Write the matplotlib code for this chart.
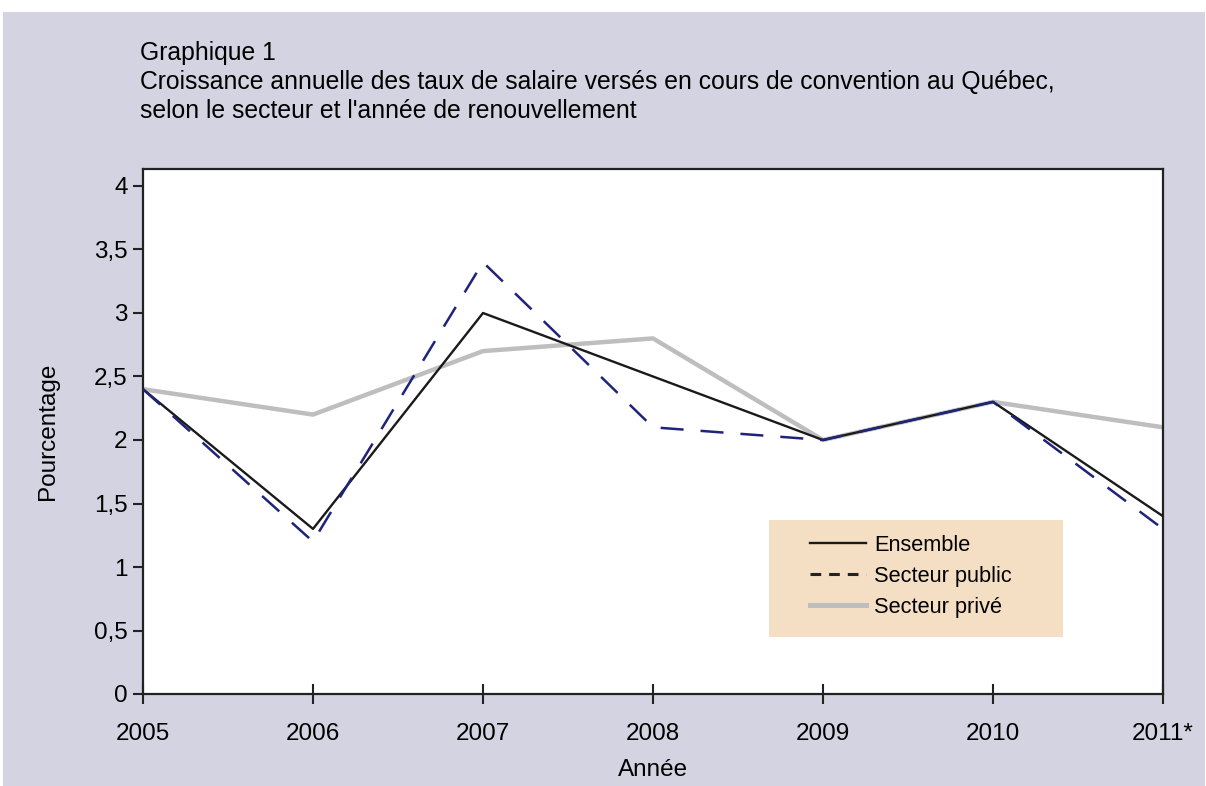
import matplotlib
matplotlib.use('Agg')
import matplotlib.pyplot as plt
from matplotlib.patches import Rectangle
from matplotlib.lines import Line2D

years = [2005, 2006, 2007, 2008, 2009, 2010, 2011]
year_labels = ['2005', '2006', '2007', '2008', '2009', '2010', '2011*']
ensemble = [2.4, 1.3, 3.0, 2.5, 2.0, 2.3, 1.4]
public = [2.4, 1.2, 3.4, 2.1, 2.0, 2.3, 1.3]
prive = [2.4, 2.2, 2.7, 2.8, 2.0, 2.3, 2.1]
y_ticks = [0, 0.5, 1, 1.5, 2, 2.5, 3, 3.5, 4]
y_labels = ['0', '0,5', '1', '1,5', '2', '2,5', '3', '3,5', '4']
series_names = ['Ensemble', 'Secteur public', 'Secteur privé']

plt.rcParams['font.family'] = ['Liberation Sans', 'DejaVu Sans']

W, H = 1206, 786
FS = 17.5
fig = plt.figure(figsize=(W / 100, H / 100), dpi=100)
fig.patch.set_facecolor('white')

# lavender panel behind everything
fig.patches.append(Rectangle((3 / W, 0), 1202 / W, 1 - 12 / H, transform=fig.transFigure,
                             facecolor='#d3d3e1', edgecolor='none', zorder=-10))

ax = fig.add_axes([143 / W, 1 - 694 / H, (1163 - 143) / W, (694 - 169) / H])
ax.set_facecolor('white')

ax.plot(years, prive, color='#bebebe', lw=3.2, zorder=2)
ax.plot(years, ensemble, color='#1a1a1a', lw=1.7, zorder=3)
ax.plot(years, public, color='#1f237a', lw=1.8, linestyle=(0, (9.2, 6.8)), zorder=4)

ax.set_xlim(2005, 2011)
ax.set_ylim(0, 4 * 525 / 508)
ax.set_xticks(years)
ax.set_xticklabels(year_labels)
ax.set_yticks(y_ticks)
ax.set_yticklabels(y_labels)

for s in ax.spines.values():
    s.set_linewidth(1.6)
    s.set_color('#222222')

ax.tick_params(axis='x', direction='inout', length=14, width=1.5, color='#222222',
               labelsize=FS, pad=14)
ax.tick_params(axis='y', direction='out', length=7, width=1.5, color='#222222',
               labelsize=FS, pad=4)

ax.set_xlabel('Année', fontsize=FS, labelpad=10)
ax.set_ylabel('Pourcentage', fontsize=FS, labelpad=25)

fig.text(140 / W, 1 - 41 / H,
         "Graphique 1\nCroissance annuelle des taux de salaire versés en cours de convention au Québec,\n"
         "selon le secteur et l'année de renouvellement",
         fontsize=17.8, va='top', ha='left', linespacing=1.25)

# legend: peach box, no border
ax.add_patch(Rectangle((769 / W, 1 - 637 / H), (1063 - 769) / W, (637 - 520) / H,
                       transform=fig.transFigure, facecolor='#f4dec4', edgecolor='none',
                       zorder=6, clip_on=False))
handles = [Line2D([], [], color='#1a1a1a', lw=1.7),
           Line2D([], [], color='#222222', lw=2.2, linestyle=(0, (3.5, 2.6))),
           Line2D([], [], color='#bebebe', lw=3.6)]
leg = ax.legend(handles, series_names, loc='upper left',
                bbox_to_anchor=(810 / W, 1 - 535 / H), bbox_transform=fig.transFigure,
                frameon=False, fontsize=15.7, handlelength=2.55, handletextpad=0.38,
                borderpad=0, labelspacing=0.46, borderaxespad=0)
leg.set_zorder(7)

fig.savefig('out.png', dpi=100, facecolor=fig.get_facecolor())
